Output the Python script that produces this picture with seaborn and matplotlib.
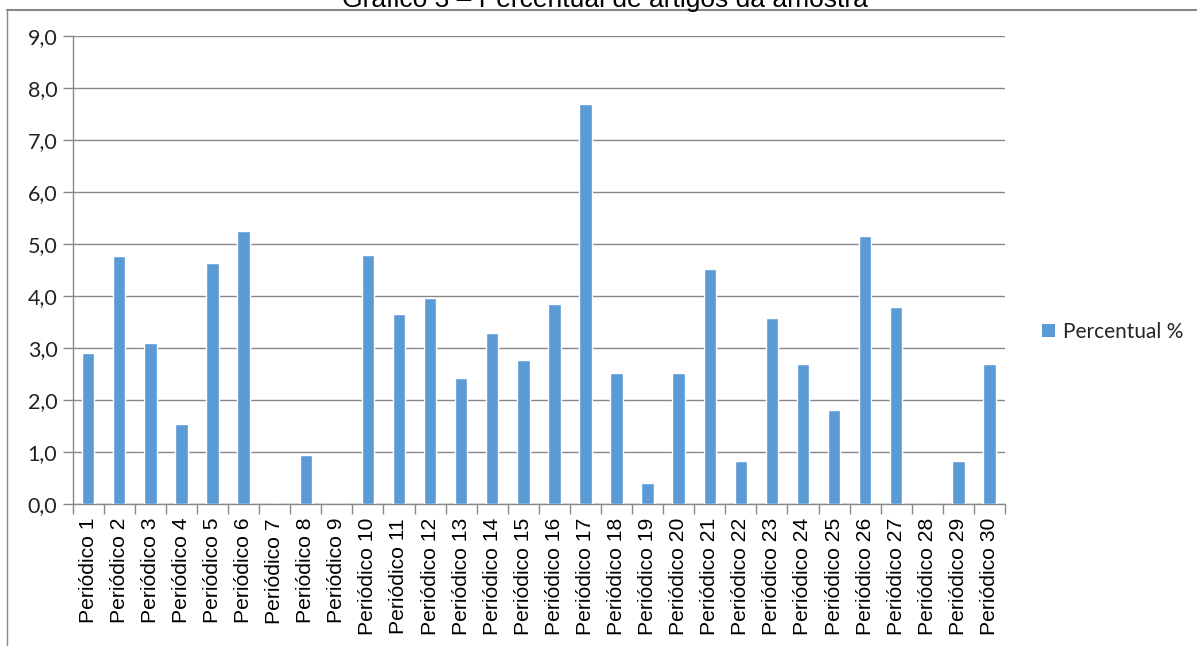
import pandas as pd
import matplotlib.pyplot as plt
import seaborn as sns
from matplotlib.ticker import FuncFormatter, FixedLocator
from matplotlib.lines import Line2D
from matplotlib.patches import Patch

# dados
periodicos = ["Periódico %d" % i for i in range(1, 31)]
percentual = [2.90, 4.76, 3.09, 1.53, 4.63, 5.25, 0.0, 0.95, 0.0, 4.78,
              3.65, 3.95, 2.43, 3.28, 2.77, 3.84, 7.69, 2.51, 0.41, 2.51,
              4.52, 0.82, 3.58, 2.70, 1.81, 5.16, 3.79, 0.0, 0.82, 2.70]
y_ticks = [0, 1, 2, 3, 4, 5, 6, 7, 8, 9]

df = pd.DataFrame({"Periódico": periodicos, "Percentual %": percentual})

sns.set_style("white")
plt.rcParams['font.family'] = ['Liberation Sans', 'DejaVu Sans']

cinza = "#888888"
azul = "#5B9BD5"

fig = plt.figure(figsize=(11.97, 6.46), dpi=100)
ax = fig.add_axes([0.0607, 0.2198, 0.7789, 0.7249])

sns.barplot(data=df, x="Periódico", y="Percentual %", order=periodicos,
            color=azul, saturation=1, width=0.4, ax=ax, zorder=3)

ax.set_xlim(-0.5, 29.5)
ax.set_ylim(0, 9)
ax.set_yticks(y_ticks)
ax.yaxis.set_major_formatter(FuncFormatter(lambda v, p: ("%.1f" % v).replace(".", ",")))
ax.grid(axis="y", color=cinza, linewidth=1, zorder=0)
ax.set_xlabel("")
ax.set_ylabel("")

for s in ["top", "right"]:
    ax.spines[s].set_visible(False)
for s in ["left", "bottom"]:
    ax.spines[s].set_color(cinza)
    ax.spines[s].set_linewidth(1)

# marcas do eixo x entre as categorias
ax.xaxis.set_minor_locator(FixedLocator([i - 0.5 for i in range(31)]))
ax.tick_params(axis="x", which="major", length=0, pad=10, labelsize=15.2,
               labelrotation=90, labelcolor="black")
ax.tick_params(axis="x", which="minor", length=7, color=cinza, width=1, direction="out", bottom=True)
ax.tick_params(axis="y", length=7, color=cinza, width=1, direction="out", left=True, pad=4)
for lb in ax.get_yticklabels():
    lb.set_family(["Lato", "DejaVu Sans"])
    lb.set_fontsize(15.5)
    lb.set_color("#222222")

# legenda
leg = fig.legend(handles=[Patch(facecolor=azul, edgecolor="none", label="Percentual %")],
                 loc="center left", bbox_to_anchor=(0.855, 0.486), frameon=False,
                 handlelength=0.6, handleheight=0.6, handletextpad=0.4,
                 prop={"family": ["Lato", "DejaVu Sans"], "size": 15})

# moldura do gráfico (cortada no topo)
fig.add_artist(Line2D([7 / 1197, 7 / 1197], [0, 1 - 10 / 646], transform=fig.transFigure,
                      color=cinza, linewidth=1))
fig.add_artist(Line2D([7 / 1197, 1], [1 - 10 / 646, 1 - 10 / 646], transform=fig.transFigure,
                      color=cinza, linewidth=1.5))

fig.text(0.505, 1 - 7.5 / 646, "Gráfico 3 – Percentual de artigos da amostra",
         ha="center", va="baseline", fontsize=19, color="black")

fig.savefig("out.png", dpi=100)
